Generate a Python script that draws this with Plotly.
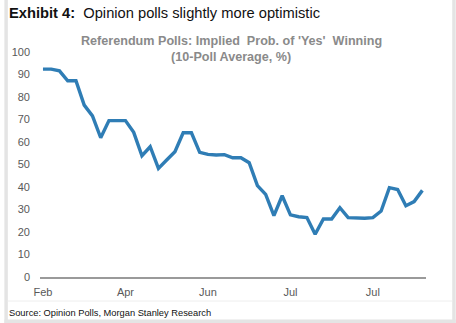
import plotly.graph_objects as go

# Implied probability of a 'Yes' win, 10-poll rolling average (%)
yes_prob = [
    92.4, 92.4, 91.6, 87.2, 87.2, 76.4, 71.6, 61.9, 69.5, 69.5,
    69.5, 64.3, 53.9, 57.9, 48.3, 52.0, 55.7, 64.1, 64.1, 55.4,
    54.5, 54.2, 54.4, 53.0, 53.0, 50.8, 40.6, 36.7, 27.3, 36.1,
    27.6, 26.8, 26.4, 19.0, 25.8, 25.8, 30.8, 26.4, 26.1, 26.1,
    26.4, 29.3, 39.7, 38.9, 31.7, 33.5, 38.5,
]
poll_index = list(range(len(yes_prob)))

# Month labels placed every 10 polls
month_ticks = [0, 10, 20, 30, 40]
month_labels = ["Feb", "Apr", "Jun", "Jul", "Jul"]

y_ticks = list(range(0, 101, 10))

W, H = 456, 323
L, R, T, B = 36, 30, 52, 46
pw, ph = W - L - R, H - T - B


def px(x):
    return (x - L) / pw


def py(y):
    return (H - B - y) / ph


FONT = "Liberation Sans"
GRAY_BORDER = "#e4e4e4"

fig = go.Figure()
fig.add_trace(go.Scatter(
    x=poll_index, y=yes_prob, mode="lines",
    line=dict(color="#2f7db5", width=3.4),
    hoverinfo="skip", showlegend=False,
))

shapes = [
    # frame strips around the white panel
    dict(type="rect", xref="paper", yref="paper", x0=px(0), x1=px(3.5),
         y0=py(0), y1=py(H), fillcolor=GRAY_BORDER, line_width=0, layer="above"),
    dict(type="rect", xref="paper", yref="paper", x0=px(452.5), x1=px(W),
         y0=py(0), y1=py(H), fillcolor=GRAY_BORDER, line_width=0, layer="above"),
    dict(type="rect", xref="paper", yref="paper", x0=px(0), x1=px(W),
         y0=py(319.5), y1=py(H), fillcolor=GRAY_BORDER, line_width=0, layer="above"),
    # faint rule above the source note
    dict(type="line", xref="paper", yref="paper", x0=px(3.5), x1=px(452.5),
         y0=py(301), y1=py(301), line=dict(color="#eeeeee", width=1)),
]

annotations = [
    dict(text="<b>Exhibit 4:</b>  Opinion polls slightly more optimistic",
         xref="paper", yref="paper", x=px(3), y=py(13), xanchor="left",
         yanchor="middle", showarrow=False,
         font=dict(family=FONT, size=14.7, color="#111111")),
    dict(text="<b>Referendum Polls: Implied  Prob. of 'Yes'  Winning</b>",
         xref="paper", yref="paper", x=px(229), y=py(41), xanchor="center",
         yanchor="middle", showarrow=False,
         font=dict(family=FONT, size=12.6, color="#8a8a8a")),
    dict(text="<b>(10-Poll Average, %)</b>",
         xref="paper", yref="paper", x=px(229), y=py(57), xanchor="center",
         yanchor="middle", showarrow=False,
         font=dict(family=FONT, size=12.6, color="#8a8a8a")),
    dict(text="Source: Opinion Polls, Morgan Stanley Research",
         xref="paper", yref="paper", x=px(3), y=py(313), xanchor="left",
         yanchor="middle", showarrow=False,
         font=dict(family=FONT, size=9.3, color="#111111")),
]

fig.update_layout(
    width=W, height=H,
    margin=dict(l=L, r=R, t=T, b=B, pad=0),
    paper_bgcolor="white", plot_bgcolor="white",
    shapes=shapes, annotations=annotations,
    xaxis=dict(
        range=[-0.36, 46.44], tickmode="array", tickvals=month_ticks,
        ticktext=month_labels, showgrid=False, zeroline=False,
        showline=True, linecolor="#9a9a9a", linewidth=1.5, ticks="",
        ticklabelstandoff=4,
        tickfont=dict(family=FONT, size=11, color="#595959"),
    ),
    yaxis=dict(
        range=[0, 100], tickmode="array", tickvals=y_ticks,
        showgrid=False, zeroline=False, showline=False, ticks="",
        ticklabelstandoff=9,
        tickfont=dict(family=FONT, size=11, color="#595959"),
    ),
)

fig.write_html("out.html")
